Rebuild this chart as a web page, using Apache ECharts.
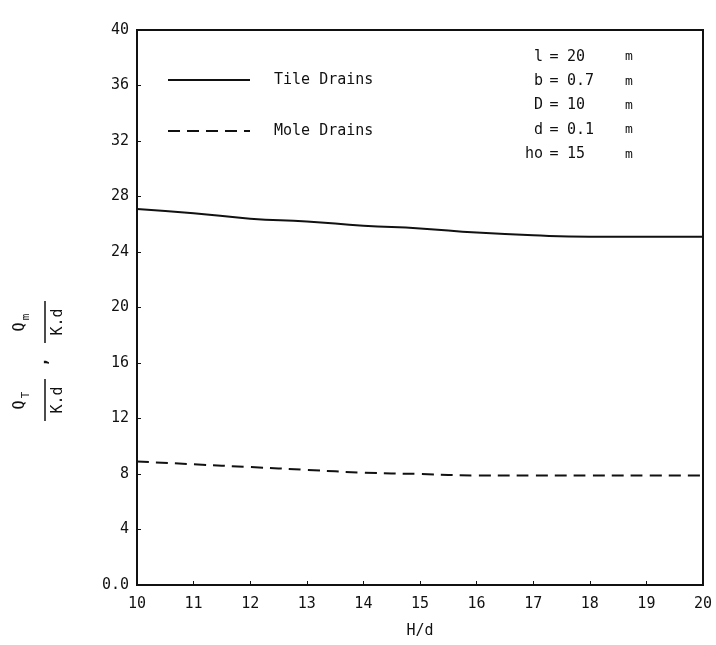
<!DOCTYPE html>
<html>
<head>
<meta charset="utf-8">
<script src="https://cdn.jsdelivr.net/npm/echarts@6/dist/echarts.min.js"></script>
<style>
    html, body { margin: 0; padding: 0; background: #fff; }
    #drainChart { width: 716px; height: 645px; }
</style>
</head>
<body>
<div id="drainChart"></div>
<script type="text/javascript">
    // H/d values
    var hdValues = [10, 11, 12, 13, 14, 15, 16, 17, 18, 19, 20];
    // Q_T / K.d  (tile drains)
    var tileDrains = [27.1, 26.8, 26.4, 26.2, 25.9, 25.7, 25.4, 25.2, 25.1, 25.1, 25.1];
    // Q_m / K.d  (mole drains)
    var moleDrains = [8.9, 8.7, 8.5, 8.3, 8.1, 8.0, 7.9, 7.9, 7.9, 7.9, 7.9];
    // parameter block, top right
    var paramNames = ['l', 'b', 'D', 'd', 'ho'];
    var paramValues = ['20', '0.7', '10', '0.1', '15'];
    var seriesNames = ['Tile Drains', 'Mole Drains'];

    var font = 'DejaVu Sans Mono';
    var dashPattern = [12, 7];
    var chart = echarts.init(document.getElementById('drainChart'));

    function pairs(ys) {
        var out = [];
        for (var i = 0; i < hdValues.length; i++) out.push([hdValues[i], ys[i]]);
        return out;
    }

    var graphics = [];

    // legend drawn by hand (line sample + label), the built-in one adds a dot
    for (var k = 0; k < seriesNames.length; k++) {
        var ly = 80 + k * 51;
        graphics.push({type: 'line', shape: {x1: 168, y1: ly, x2: 250, y2: ly},
            style: {stroke: '#111', lineWidth: 2, lineDash: k === 0 ? null : dashPattern}});
        graphics.push({type: 'text', x: 274, y: ly,
            style: {text: seriesNames[k], font: '15px ' + font, fill: '#111', align: 'left', verticalAlign: 'middle'}});
    }

    // parameter text, one row per entry
    for (var i = 0; i < paramNames.length; i++) {
        var y = 57 + i * 24.3;
        graphics.push({type: 'text', x: 543, y: y,
            style: {text: paramNames[i], font: '15px ' + font, fill: '#111', align: 'right', verticalAlign: 'middle'}});
        graphics.push({type: 'text', x: 554, y: y,
            style: {text: '=', font: '15px ' + font, fill: '#111', align: 'center', verticalAlign: 'middle'}});
        graphics.push({type: 'text', x: 567, y: y,
            style: {text: paramValues[i], font: '15px ' + font, fill: '#111', align: 'left', verticalAlign: 'middle'}});
        graphics.push({type: 'text', x: 625, y: y,
            style: {text: 'm', font: '13px ' + font, fill: '#111', align: 'left', verticalAlign: 'middle'}});
    }

    // y axis name:  Q_T / K.d , Q_m / K.d  (rotated)
    function fraction(cx, sub) {
        return [
            {type: 'text', x: cx - 5, y: -20, style: {text: 'Q', font: '15px ' + font, fill: '#111', align: 'center', verticalAlign: 'middle'}},
            {type: 'text', x: cx + 5, y: -14, style: {text: sub, font: '11px ' + font, fill: '#111', align: 'center', verticalAlign: 'middle'}},
            {type: 'line', shape: {x1: cx - 21, y1: 5, x2: cx + 21, y2: 5}, style: {stroke: '#111', lineWidth: 1.5}},
            {type: 'text', x: cx, y: 18, style: {text: 'K.d', font: '15px ' + font, fill: '#111', align: 'center', verticalAlign: 'middle'}}
        ];
    }
    graphics.push({
        type: 'group',
        x: 40, y: 362,
        rotation: Math.PI / 2,
        children: fraction(-38, 'T').concat(fraction(40, 'm')).concat([
            {type: 'text', x: 0, y: 3, style: {text: ',', font: 'bold 15px ' + font, fill: '#111', align: 'center', verticalAlign: 'middle'}}
        ])
    });

    var option = {
        backgroundColor: '#fff',
        animation: false,
        grid: {
            left: 137, right: 13, top: 30, bottom: 60,
            show: true, borderColor: '#111', borderWidth: 2
        },
        xAxis: {
            type: 'value',
            min: 10, max: 20, interval: 1,
            name: 'H/d',
            nameLocation: 'middle',
            nameGap: 39,
            nameTextStyle: {fontFamily: font, fontSize: 15, color: '#111'},
            axisLine: {lineStyle: {color: '#111', width: 2}},
            axisTick: {inside: true, length: 4, lineStyle: {color: '#111'}},
            axisLabel: {fontFamily: font, fontSize: 15, color: '#111', margin: 12},
            splitLine: {show: false}
        },
        yAxis: {
            type: 'value',
            min: 0, max: 40, interval: 4,
            axisLine: {show: true, lineStyle: {color: '#111', width: 2}},
            axisTick: {show: true, inside: true, length: 4, lineStyle: {color: '#111'}},
            axisLabel: {
                fontFamily: font, fontSize: 15, color: '#111', margin: 8,
                formatter: function (v) { return v === 0 ? '0.0' : String(v); }
            },
            splitLine: {show: false}
        },
        graphic: graphics,
        series: [
            {
                name: seriesNames[0],
                type: 'line',
                symbol: 'none',
                smooth: true,
                data: pairs(tileDrains),
                lineStyle: {color: '#111', width: 2, type: 'solid'}
            },
            {
                name: seriesNames[1],
                type: 'line',
                symbol: 'none',
                smooth: true,
                data: pairs(moleDrains),
                lineStyle: {color: '#111', width: 2, type: dashPattern}
            }
        ]
    };
    chart.setOption(option);
</script>
</body>
</html>
